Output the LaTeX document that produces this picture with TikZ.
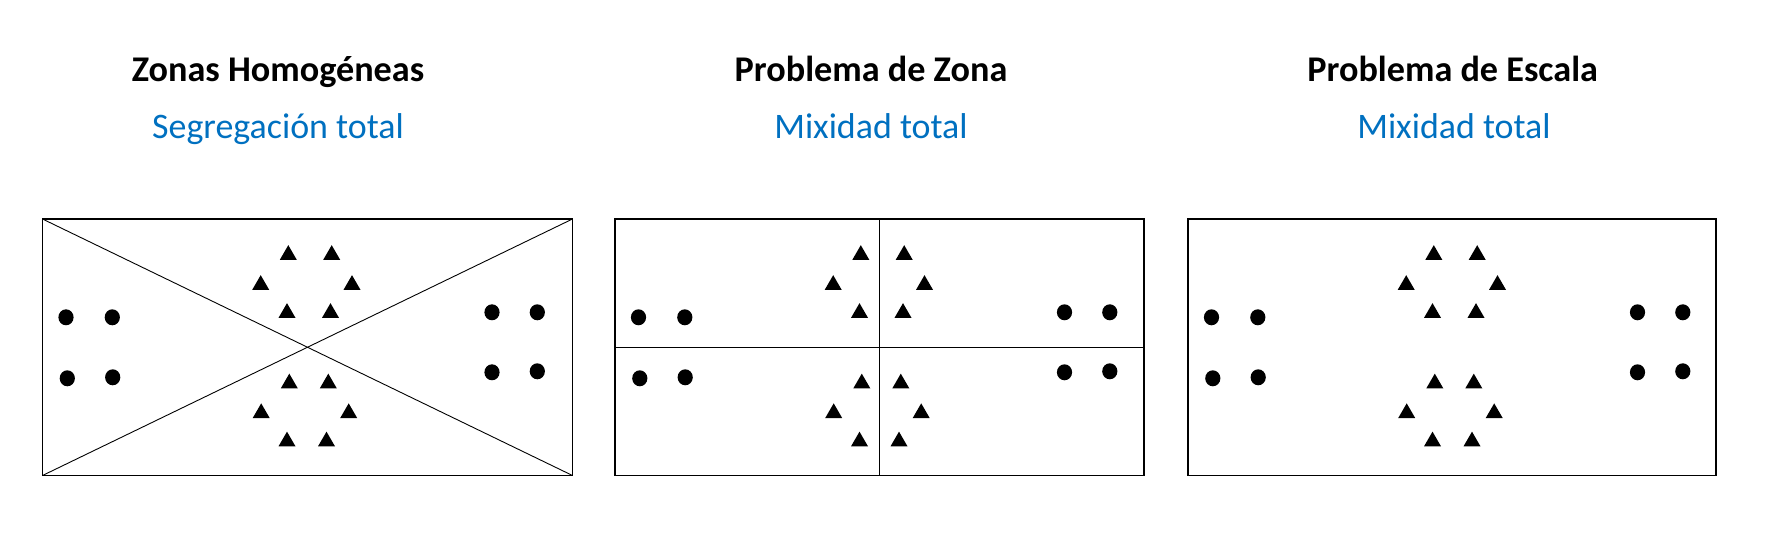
\documentclass[tikz,border=0pt]{standalone}
\usepackage{fontspec}
\setmainfont{Carlito}
\definecolor{subblue}{RGB}{0,112,192}
\begin{document}
\begin{tikzpicture}[x=1pt,y=-1pt,
  boxframe/.style={line width=1.8pt},
  divider/.style={line width=0.9pt},
  titletext/.style={font=\fontsize{36.2}{43}\selectfont\bfseries, anchor=base, inner sep=0pt},
  subtext/.style={font=\fontsize{35.9}{43}\selectfont, text=subblue, anchor=base, inner sep=0pt},
  pics/tri/.style={code={\fill (-8.5,7.35) -- (8.5,7.35) -- (0,-7.35) -- cycle;}},
  pics/dotmark/.style={code={\fill (0,0) ellipse [x radius=7.6, y radius=8];}}
]
\useasboundingbox (0,0) rectangle (1765,548);

% titles
\node[titletext] (t1) at (278,81.7) {Zonas Homogéneas};
\node[subtext] (s1) at (278,138.3) {Segregación total};
\node[titletext] (t2) at (871,81.7) {Problema de Zona};
\node[subtext] (s2) at (871,138.3) {Mixidad total};
\node[titletext] (t3) at (1452.7,81.7) {Problema de Escala};
\node[subtext] (s3) at (1454,138.3) {Mixidad total};

% box corners
\coordinate (a1) at (42.5,219);  \coordinate (a2) at (572.5,475.5);
\coordinate (b1) at (615,219);   \coordinate (b2) at (1144,475.5);
\coordinate (c1) at (1188,219);  \coordinate (c2) at (1716,475.5);

% divisions
\draw[divider] (a1) -- (a2);
\draw[divider] (a1 |- a2) -- (a2 |- a1);
\coordinate (bm) at (879.5,347.25);
\draw[divider] (bm |- b1) -- (bm |- b2);
\draw[divider] (b1 |- bm) -- (b2 |- bm);

% frames
\draw[boxframe] (a1) rectangle (a2);
\draw[boxframe] (b1) rectangle (b2);
\draw[boxframe] (c1) rectangle (c2);

% markers
\foreach \ox in {42.5,615,1188} {
  \begin{scope}[shift={(\ox,0)}]
    \foreach \px/\py in {23.5/317.3, 69.8/317.3, 24.8/378.3, 70.2/377.3,
                         449.5/312.3, 494.8/312.3, 449.5/372.3, 494.8/371.3}
      \pic at (\px,\py) {dotmark};
    \foreach \px/\py in {245.8/252.5, 289.2/252.5, 218.2/282.5, 309.5/282.5,
                         244.5/310.5, 288/310.5,
                         246.8/381, 285.8/381, 218.7/410.7, 306.2/410.7,
                         244.5/439, 284/439}
      \pic at (\px,\py) {tri};
  \end{scope}
}
\end{tikzpicture}
\end{document}
